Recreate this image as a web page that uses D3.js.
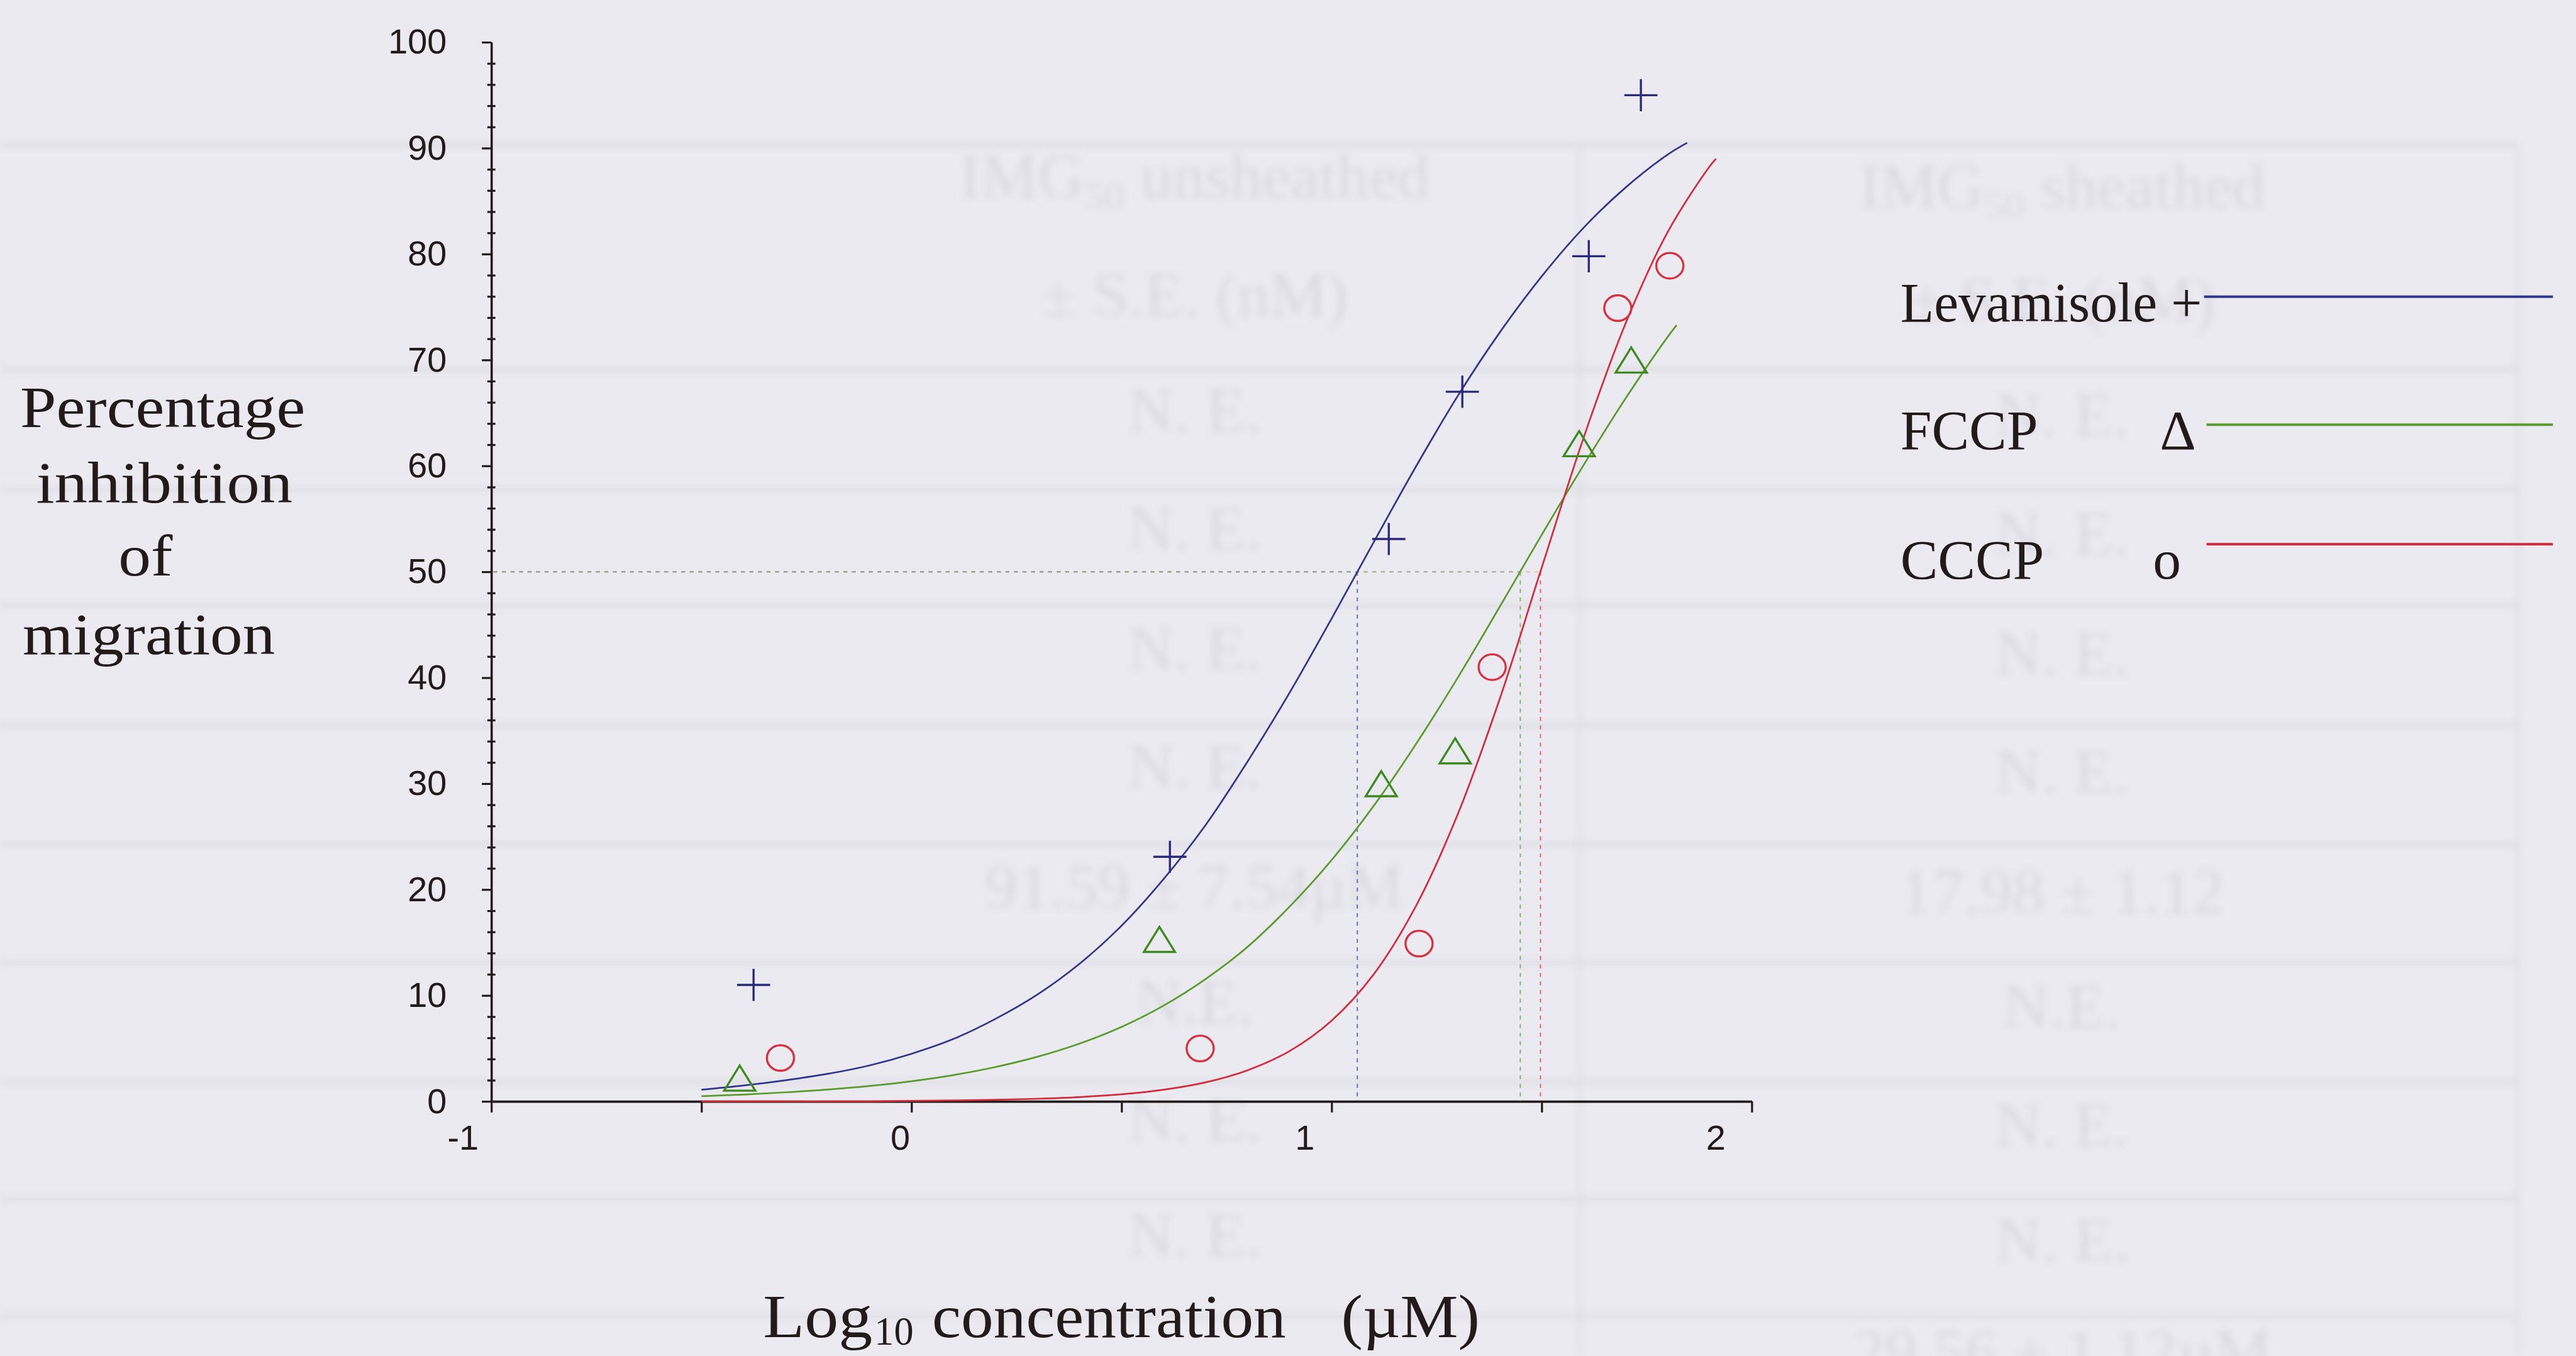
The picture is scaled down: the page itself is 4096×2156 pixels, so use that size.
<!DOCTYPE html>
<html>
<head>
<meta charset="utf-8">
<script src="https://cdn.jsdelivr.net/npm/d3@7"></script>
<style>
  html, body { margin: 0; padding: 0; background: #ebeaf0; overflow: hidden; }
  svg { display: block; }
</style>
</head>
<body>
<svg id="chart" width="4096" height="2156" viewBox="0 0 5132 2701"></svg>
<script>
// ---- data -------------------------------------------------------------
const seriesNames   = ["Levamisole", "FCCP", "CCCP"];
const seriesSymbols = ["+", "\u0394", "o"];

// observed inhibition (%) against log10 concentration (uM)
const levamisoleX = [-0.376, 0.615, 1.136, 1.311, 1.612, 1.736];
const levamisoleY = [11.0, 23.1, 53.1, 67.0, 79.8, 95.0];
const fccpX = [-0.409, 0.590, 1.118, 1.294, 1.589, 1.713];
const fccpY = [2.2, 15.3, 30.0, 33.1, 62.1, 70.0];
const cccpX = [-0.312, 0.687, 1.208, 1.382, 1.681, 1.805];
const cccpY = [4.1, 5.0, 14.9, 41.0, 74.9, 78.9];

// fitted dose-response curves
const levamisoleCurveX = [-0.5,-0.4,-0.3,-0.2,-0.1,0.0,0.1,0.2,0.3,0.4,0.5,0.6,0.7,0.8,0.9,1.0,1.1,1.2,1.3,1.4,1.5,1.6,1.7,1.8,1.846];
const levamisoleCurveY = [1.1,1.5,2.0,2.6,3.4,4.5,5.9,7.8,10.1,13.0,16.6,21.0,26.1,32.1,38.6,45.6,52.8,59.9,66.6,72.6,77.9,82.5,86.3,89.4,90.5];
const fccpCurveX = [-0.5,-0.4,-0.3,-0.2,-0.1,0.0,0.1,0.2,0.3,0.4,0.5,0.6,0.7,0.8,0.9,1.0,1.1,1.2,1.3,1.4,1.5,1.6,1.7,1.8,1.821];
const fccpCurveY = [0.5,0.65,0.86,1.12,1.46,1.91,2.49,3.25,4.22,5.46,7.04,9.05,11.56,14.6,18.4,22.8,27.9,33.7,40.0,46.7,53.5,60.1,66.4,72.2,73.3];
const cccpCurveX = [-0.5,-0.4,-0.3,-0.2,-0.1,0.0,0.1,0.2,0.3,0.4,0.5,0.6,0.7,0.8,0.9,1.0,1.1,1.2,1.3,1.4,1.5,1.6,1.7,1.8,1.9,1.915];
const cccpCurveY = [0,0,0,0,0.01,0.05,0.09,0.15,0.25,0.41,0.67,1.10,1.80,2.94,4.76,7.63,12.0,18.4,27.1,38.0,50.4,62.7,73.5,82.1,88.3,89.0];

// log10 concentration giving 50 % inhibition
const ic50Level = 50;
const ic50Values = [1.061, 1.449, 1.497];

// axis ticks
const xTickValues = [-1, -0.5, 0, 0.5, 1, 1.5, 2];
const xTickLabels = ["-1", "", "0", "", "1", "", "2"];
const yMajorTicks = [0, 10, 20, 30, 40, 50, 60, 70, 80, 90, 100];

// faint table showing through the page
const tableRuleY = [288, 736, 975, 1206, 1445, 1683, 1917, 2155, 2389, 2622];
const tableColumn2 = ["N. E.", "N. E.", "N. E.", "N. E.", "91.59 \u00b1 7.54\u00b5M", "N.E.", "N. E.", "N. E."];
const tableColumn3 = ["N. E.", "N. E.", "N. E.", "N. E.", "17.98 \u00b1 1.12", "N.E.", "N. E.", "N. E.", "29.56 \u00b1 1.12\u00b5M"];

// ---- styling ----------------------------------------------------------
const lineColors   = ["#30358e", "#5b9a2c", "#d42a3b"];
const markerColors = ["#2a2a7c", "#3f8a20", "#d8303e"];
const inkColor = "#231a1a";
const sansFont  = "'Liberation Sans', Arial, sans-serif";
const serifFont = "'Liberation Serif', 'Times New Roman', serif";

const svg = d3.select("#chart");

svg.append("rect").attr("width", 5132).attr("height", 2701).attr("fill", "#ebeaf0");

const defs = svg.append("defs");
defs.append("filter").attr("id", "soft")
  .attr("x", "-5%").attr("y", "-5%").attr("width", "110%").attr("height", "110%")
  .append("feGaussianBlur").attr("stdDeviation", 7);

// ---- faint table layer ------------------------------------------------
const ghost = svg.append("g").attr("filter", "url(#soft)").attr("opacity", 0.42);
ghost.selectAll("line.rule").data(tableRuleY).join("line")
  .attr("class", "rule")
  .attr("x1", 0).attr("x2", 5016)
  .attr("y1", d => d).attr("y2", d => d)
  .attr("stroke", "#c8c6cf").attr("stroke-width", 8);
ghost.selectAll("line.col").data([3147, 5016]).join("line")
  .attr("class", "col")
  .attr("x1", d => d).attr("x2", d => d)
  .attr("y1", 288).attr("y2", 2701)
  .attr("stroke", "#cfcdd6").attr("stroke-width", 7);

const ghostText = ghost.append("g")
  .attr("font-family", serifFont).attr("font-size", 128)
  .attr("fill", "#c6c4cd").attr("text-anchor", "middle");
const headerA = ghostText.append("text").attr("x", 2380).attr("y", 395);
headerA.append("tspan").text("IMG");
headerA.append("tspan").attr("font-size", 80).attr("dy", 22).text("50");
headerA.append("tspan").attr("dy", -22).text(" unsheathed");
ghostText.append("text").attr("x", 2380).attr("y", 630).text("\u00b1 S.E. (nM)");
const headerB = ghostText.append("text").attr("x", 4108).attr("y", 415);
headerB.append("tspan").text("IMG");
headerB.append("tspan").attr("font-size", 80).attr("dy", 22).text("50");
headerB.append("tspan").attr("dy", -22).text(" sheathed");
ghostText.append("text").attr("x", 4108).attr("y", 640).text("\u00b1 S.E. (nM)");
const rowY = [860, 1096, 1335, 1570, 1809, 2039, 2274, 2503, 2726];
ghostText.selectAll("text.c2").data(tableColumn2).join("text")
  .attr("class", "c2").attr("x", 2380).attr("y", (d, i) => rowY[i]).text(d => d);
ghostText.selectAll("text.c3").data(tableColumn3).join("text")
  .attr("class", "c3").attr("x", 4108).attr("y", (d, i) => rowY[i] + 10).text(d => d);

// ---- scales -----------------------------------------------------------
const x = d3.scaleLinear().domain([-1, 2]).range([979, 3490]);
const y = d3.scaleLinear().domain([0, 100]).range([2194, 84]);

const plot = svg.append("g");

// ---- axes -------------------------------------------------------------
function styleAxis(sel) {
  sel.selectAll("path.domain").attr("stroke", inkColor).attr("stroke-width", 4.5);
  sel.selectAll(".tick line").attr("stroke", inkColor).attr("stroke-width", 4);
  sel.selectAll(".tick text")
    .attr("font-family", sansFont).attr("font-size", 70).attr("fill", inkColor);
}

// minor ticks on y every 2 units, crossing the axis
const yMinorTicks = d3.range(2, 100, 2).filter(v => v % 10 !== 0);
const yMinor = plot.append("g")
  .attr("transform", `translate(${x(-1) + 8},0)`)
  .call(d3.axisLeft(y).tickValues(yMinorTicks).tickSize(16).tickFormat(""));
yMinor.select("path.domain").remove();
yMinor.selectAll(".tick line").attr("stroke", inkColor).attr("stroke-width", 4);

const yAxisG = plot.append("g")
  .attr("transform", `translate(${x(-1)},0)`)
  .call(d3.axisLeft(y).tickValues(yMajorTicks).tickSize(19).tickSizeOuter(0)
    .tickPadding(70).tickFormat(d3.format("d")));
styleAxis(yAxisG);

// x labels sit a little left of their ticks
const xLabelShift = { "-1": -57, "0": -23, "1": -54, "2": -72 };
const xAxisG = plot.append("g")
  .attr("transform", `translate(0,${y(0)})`)
  .call(d3.axisBottom(x).tickValues(xTickValues).tickSize(22).tickSizeOuter(0)
    .tickPadding(25).tickFormat((d, i) => xTickLabels[i]));
styleAxis(xAxisG);
xAxisG.selectAll(".tick text").attr("dx", d => xLabelShift[String(d)] || 0);

// ---- IC50 guides ------------------------------------------------------
const guides = plot.append("g").attr("fill", "none").attr("stroke-width", 2.6)
  .attr("stroke-dasharray", "8 9");
[0, 2, 1].forEach(i => {
  guides.append("line")
    .attr("x1", x(-1) + 4).attr("x2", x(ic50Values[i]))
    .attr("y1", y(ic50Level)).attr("y2", y(ic50Level))
    .attr("stroke", lineColors[i]).attr("stroke-opacity", i === 1 ? 0.45 : 0.25);
  guides.append("line")
    .attr("x1", x(ic50Values[i])).attr("x2", x(ic50Values[i]))
    .attr("y1", y(ic50Level)).attr("y2", y(0))
    .attr("stroke", lineColors[i]).attr("stroke-opacity", 0.65);
});

// ---- fitted curves ----------------------------------------------------
const curves = [
  d3.zip(levamisoleCurveX, levamisoleCurveY),
  d3.zip(fccpCurveX, fccpCurveY),
  d3.zip(cccpCurveX, cccpCurveY)
];
const line = d3.line()
  .x(d => x(d[0])).y(d => y(d[1]))
  .curve(d3.curveCatmullRom.alpha(0.5));
plot.append("g").selectAll("path.fit").data(curves).join("path")
  .attr("class", "fit")
  .attr("d", line)
  .attr("fill", "none")
  .attr("stroke", (d, i) => lineColors[i])
  .attr("stroke-width", 3.4);

// ---- observed points --------------------------------------------------
const points = [
  d3.zip(levamisoleX, levamisoleY),
  d3.zip(fccpX, fccpY),
  d3.zip(cccpX, cccpY)
];
const markerPaths = [
  "M-33,0H33M0,-32V32",
  "M0,-25L31,25L-31,25Z",
  null
];
const marks = plot.append("g").attr("fill", "none");
points.forEach((pts, i) => {
  const g = marks.append("g").attr("stroke", markerColors[i]).attr("stroke-width", 4.2);
  if (markerPaths[i]) {
    g.selectAll("path").data(pts).join("path")
      .attr("transform", d => `translate(${x(d[0])},${y(d[1])})`)
      .attr("d", markerPaths[i]);
  } else {
    g.selectAll("ellipse").data(pts).join("ellipse")
      .attr("cx", d => x(d[0])).attr("cy", d => y(d[1]))
      .attr("rx", 27).attr("ry", 25.5);
  }
});

// ---- axis titles ------------------------------------------------------
const yTitleLines = [
  { text: "Percentage", x: 40,  y: 851,  w: 568 },
  { text: "inhibition", x: 72,  y: 1001, w: 511 },
  { text: "of",         x: 236, y: 1146, w: 108 },
  { text: "migration",  x: 45,  y: 1303, w: 503 }
];
svg.append("g").selectAll("text").data(yTitleLines).join("text")
  .attr("x", d => d.x).attr("y", d => d.y)
  .attr("textLength", d => d.w).attr("lengthAdjust", "spacingAndGlyphs")
  .attr("font-family", serifFont).attr("font-size", 116).attr("fill", inkColor)
  .text(d => d.text);

const xTitleParts = [
  { text: "Log",           x: 1520, dy: 0,  size: 122, w: 218 },
  { text: "10",            x: 1742, dy: 14, size: 80,  w: 78 },
  { text: "concentration", x: 1857, dy: 0,  size: 122, w: 705 },
  { text: "(\u00b5M)",     x: 2672, dy: 0,  size: 122, w: 276 }
];
svg.append("g").selectAll("text").data(xTitleParts).join("text")
  .attr("x", d => d.x).attr("y", d => 2664 + d.dy)
  .attr("textLength", d => d.w).attr("lengthAdjust", "spacingAndGlyphs")
  .attr("font-family", serifFont).attr("font-size", d => d.size).attr("fill", inkColor)
  .text(d => d.text);

// ---- legend -----------------------------------------------------------
const legendRows = [
  { textY: 640,  lineY: 591,  symX: null, lineX1: 4391 },
  { textY: 895,  lineY: 846,  symX: 4303, lineX1: 4396 },
  { textY: 1152, lineY: 1084, symX: 4289, lineX1: 4396 }
];
const legend = svg.append("g")
  .attr("font-family", serifFont).attr("font-size", 112).attr("fill", inkColor);
legendRows.forEach((r, i) => {
  if (r.symX === null) {
    legend.append("text").attr("x", 3786).attr("y", r.textY)
      .attr("textLength", 601).attr("lengthAdjust", "spacingAndGlyphs")
      .text(seriesNames[i] + " " + seriesSymbols[i]);
  } else {
    legend.append("text").attr("x", 3786).attr("y", r.textY).text(seriesNames[i]);
    legend.append("text").attr("x", r.symX).attr("y", r.textY).text(seriesSymbols[i]);
  }
  legend.append("line")
    .attr("x1", r.lineX1).attr("x2", 5086)
    .attr("y1", r.lineY).attr("y2", r.lineY)
    .attr("stroke", lineColors[i]).attr("stroke-width", 5);
});
</script>
</body>
</html>
